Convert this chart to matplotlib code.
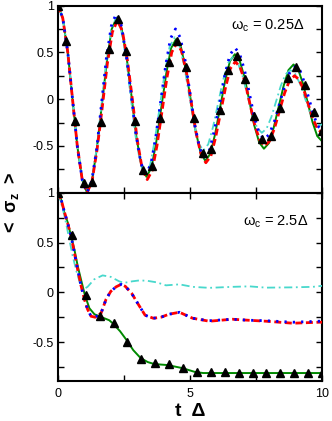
import matplotlib
matplotlib.use("Agg")
import matplotlib.pyplot as plt
from matplotlib.ticker import MultipleLocator

plt.rcParams['font.family'] = ['Liberation Sans', 'DejaVu Sans']
plt.rcParams['mathtext.fontset'] = 'custom'
plt.rcParams['mathtext.rm'] = 'Liberation Sans'
plt.rcParams['mathtext.it'] = 'Liberation Sans:italic'
plt.rcParams['mathtext.bf'] = 'Liberation Sans:bold'

# ---------------- top panel (omega_c = 0.25 Delta) ----------------
top_green_t = [0, 0.18, 0.37, 0.55, 0.73, 0.92, 1.1, 1.29, 1.47, 1.66, 1.85, 2.03, 2.22,
               2.41, 2.60, 2.79, 2.97, 3.16, 3.35, 3.54, 3.72, 3.91, 4.10, 4.28, 4.47,
               4.66, 4.84, 5.03, 5.21, 5.40, 5.58, 5.77, 5.95, 6.14, 6.33, 6.51, 6.70,
               6.88, 7.07, 7.25, 7.43, 7.62, 7.80, 7.99, 8.17, 8.36, 8.55, 8.73, 8.92,
               9.10, 9.28, 9.46, 9.64, 9.82, 10.0]
top_green_v = [1.0, 0.866, 0.5, 0.0, -0.5, -0.866, -1.0, -0.875, -0.53, -0.065, 0.40, 0.745, 0.87,
               0.756, 0.445, 0.02, -0.405, -0.716, -0.83, -0.732, -0.4625, -0.095, 0.2725, 0.542, 0.64,
               0.553, 0.315, -0.01, -0.335, -0.573, -0.66, -0.584, -0.375, -0.09, 0.195, 0.404, 0.48,
               0.412, 0.2275, -0.025, -0.2775, -0.462, -0.53, -0.47, -0.305, -0.08, 0.145, 0.31, 0.37,
               0.315, 0.165, -0.04, -0.245, -0.395, -0.45]

top_red_t = [0, 0.18, 0.37, 0.55, 0.73, 0.92, 1.1, 1.29, 1.48, 1.68, 1.87, 2.06, 2.25,
             2.44, 2.63, 2.82, 3.0, 3.19, 3.38, 3.57, 3.75, 3.94, 4.13, 4.31, 4.50,
             4.68, 4.87, 5.05, 5.23, 5.42, 5.60, 5.79, 5.97, 6.16, 6.35, 6.53, 6.72,
             6.90, 7.09, 7.27, 7.45, 7.64, 7.82, 8.01, 8.20, 8.39, 8.58, 8.77, 8.96,
             9.13, 9.31, 9.48, 9.65, 9.83, 10.0]
top_red_v = [1.0, 0.866, 0.5, 0.0, -0.5, -0.866, -1.0, -0.877, -0.54, -0.08, 0.38, 0.717, 0.84,
             0.726, 0.415, -0.01, -0.435, -0.746, -0.86, -0.762, -0.495, -0.13, 0.235, 0.502, 0.60,
             0.514, 0.28, -0.04, -0.36, -0.594, -0.68, -0.608, -0.41, -0.14, 0.13, 0.328, 0.40,
             0.34, 0.175, -0.05, -0.275, -0.44, -0.50, -0.45, -0.3125, -0.125, 0.0625, 0.20, 0.25,
             0.209, 0.0975, -0.055, -0.2075, -0.319, -0.36]

top_blue_t = [0, 0.18, 0.37, 0.55, 0.73, 0.92, 1.1, 1.28, 1.47, 1.65, 1.83, 2.02, 2.2,
              2.39, 2.58, 2.77, 2.95, 3.14, 3.33, 3.52, 3.70, 3.89, 4.08, 4.26, 4.45,
              4.63, 4.82, 5.0, 5.18, 5.37, 5.55, 5.74, 5.93, 6.13, 6.32, 6.51, 6.70,
              6.88, 7.07, 7.25, 7.43, 7.62, 7.80, 8.0, 8.2, 8.4, 8.6, 8.8, 9.0,
              9.17, 9.33, 9.5, 9.67, 9.83, 10.0]
top_blue_v = [1.0, 0.866, 0.5, 0.0, -0.5, -0.866, -1.0, -0.872, -0.5225, -0.045, 0.4325, 0.782, 0.91,
              0.795, 0.4825, 0.055, -0.3725, -0.685, -0.80, -0.696, -0.4125, -0.025, 0.3625, 0.646, 0.75,
              0.658, 0.4075, 0.065, -0.2775, -0.528, -0.62, -0.542, -0.3275, -0.035, 0.2575, 0.472, 0.55,
              0.484, 0.305, 0.06, -0.185, -0.364, -0.43, -0.378, -0.235, -0.04, 0.155, 0.298, 0.35,
              0.304, 0.18, 0.01, -0.16, -0.284, -0.33]

top_cyan_t = [0, 0.18, 0.37, 0.55, 0.73, 0.92, 1.1, 1.28, 1.47, 1.65, 1.83, 2.02, 2.2,
              2.38, 2.57, 2.75, 2.93, 3.12, 3.3, 3.49, 3.67, 3.86, 4.05, 4.23, 4.42,
              4.60, 4.78, 4.96, 5.14, 5.32, 5.5, 5.69, 5.87, 6.06, 6.25, 6.43, 6.62,
              6.80, 6.99, 7.17, 7.35, 7.54, 7.72, 7.90, 8.08, 8.26, 8.44, 8.62, 8.8,
              8.98, 9.17, 9.35, 9.53, 9.72, 9.9, 10.0]
top_cyan_v = [1.0, 0.867, 0.505, 0.01, -0.485, -0.847, -0.98, -0.856, -0.5175, -0.055, 0.4075, 0.746, 0.87,
              0.758, 0.4525, 0.035, -0.3825, -0.688, -0.80, -0.702, -0.435, -0.07, 0.295, 0.562, 0.66,
              0.579, 0.3575, 0.055, -0.2475, -0.469, -0.55, -0.483, -0.30, -0.05, 0.20, 0.383, 0.45,
              0.396, 0.2475, 0.045, -0.1575, -0.306, -0.36, -0.315, -0.1925, -0.025, 0.1425, 0.265, 0.31,
              0.27, 0.1625, 0.015, -0.1325, -0.24, -0.28, -0.27]

top_tri_v = [1.0, 0.62, -0.23, -0.90, -0.89, -0.24, 0.54, 0.86, 0.51, -0.23, -0.76, -0.72,
             -0.20, 0.40, 0.62, 0.34, -0.20, -0.58, -0.53, -0.12, 0.31, 0.46, 0.22, -0.18,
             -0.43, -0.39, -0.09, 0.23, 0.34, 0.15, -0.14, -0.34]
top_tri_t = [0.0, 0.32, 0.65, 0.97, 1.29, 1.61, 1.94, 2.26, 2.58, 2.90, 3.23, 3.55,
             3.87, 4.19, 4.52, 4.84, 5.16, 5.48, 5.81, 6.13, 6.45, 6.77, 7.10, 7.42,
             7.74, 8.06, 8.39, 8.71, 9.03, 9.35, 9.68, 10.0]

# ---------------- bottom panel (omega_c = 2.5 Delta) ----------------
bot_green_t = [0, 0.11, 0.24, 0.37, 0.49, 0.62, 0.75, 0.87, 1.02, 1.19, 1.38, 1.56, 1.94,
               2.07, 2.35, 2.6, 2.85, 3.13, 3.4, 3.65, 4.15, 4.7, 5.2, 5.5, 6, 7, 8, 9, 10]
bot_green_v = [1.0, 0.94, 0.80, 0.70, 0.57, 0.43, 0.26, 0.13, -0.03, -0.16, -0.22, -0.24, -0.28,
               -0.31, -0.39, -0.48, -0.58, -0.66, -0.70, -0.72, -0.73, -0.76, -0.80, -0.81,
               -0.81, -0.81, -0.81, -0.81, -0.81]

bot_red_t = [0, 0.12, 0.25, 0.37, 0.5, 0.62, 0.75, 0.87, 1.0, 1.12, 1.25, 1.41, 1.63, 1.82,
             2.0, 2.2, 2.39, 2.55, 2.79, 3.04, 3.3, 3.61, 3.9, 4.2, 4.6, 5.1, 5.73, 6.6,
             7.2, 7.88, 8.9, 9.9, 10]
bot_red_v = [1.0, 0.93, 0.80, 0.69, 0.56, 0.40, 0.22, 0.07, -0.07, -0.17, -0.24, -0.25, -0.21,
             -0.07, 0.01, 0.055, 0.08, 0.06, -0.01, -0.12, -0.23, -0.26, -0.25, -0.22, -0.20,
             -0.26, -0.29, -0.27, -0.28, -0.29, -0.31, -0.30, -0.30]
bot_blue_t = bot_red_t
bot_blue_v = [1.0, 0.93, 0.80, 0.69, 0.56, 0.40, 0.22, 0.07, -0.07, -0.17, -0.24, -0.25, -0.21,
              -0.07, 0.01, 0.055, 0.08, 0.06, -0.01, -0.12, -0.23, -0.26, -0.25, -0.22, -0.20,
              -0.26, -0.285, -0.27, -0.28, -0.285, -0.30, -0.29, -0.29]

bot_cyan_t = [0, 0.05, 0.18, 0.3, 0.43, 0.56, 0.71, 0.87, 0.96, 1.12, 1.37, 1.69, 2.0, 2.32,
              2.51, 2.8, 3.1, 3.4, 3.74, 4.09, 4.6, 5.1, 5.73, 6.6, 7.25, 7.88, 8.9, 9.65, 10]
bot_cyan_v = [1.0, 0.95, 0.84, 0.70, 0.53, 0.36, 0.20, 0.06, 0.03, 0.055, 0.13, 0.17, 0.155,
              0.11, 0.095, 0.11, 0.12, 0.115, 0.10, 0.07, 0.08, 0.055, 0.045, 0.055, 0.06,
              0.047, 0.05, 0.055, 0.065]

bot_tri_t = [0.0, 0.53, 1.05, 1.58, 2.11, 2.63, 3.16, 3.68, 4.21, 4.74, 5.26, 5.79, 6.32,
             6.84, 7.37, 7.89, 8.42, 8.95, 9.47, 10.0]
bot_tri_v = [1.0, 0.58, -0.03, -0.24, -0.31, -0.50, -0.67, -0.71, -0.72, -0.76, -0.80, -0.80,
             -0.80, -0.81, -0.81, -0.81, -0.81, -0.81, -0.81, -0.81]

labels = [r'$\mathrm{\omega_c}$ = 0.25Δ', r'$\mathrm{\omega_c}$ = 2.5Δ']

fig = plt.figure(figsize=(3.32, 4.21), dpi=100)
left, width = 0.1747, 0.7952
ax1 = fig.add_axes([left, 0.5423, width, 0.4446])
ax2 = fig.add_axes([left, 0.0950, width, 0.4473])

GREEN = '#008a00'
RED = '#ff0000'
BLUE = '#0000ff'
CYAN = '#48d8cc'


def draw(ax, g, c, r, b, tri):
    ax.plot(g[0], g[1], color=GREEN, lw=1.4, zorder=2)
    ax.plot(c[0], c[1], color=CYAN, lw=1.3, dashes=(4.5, 2, 1, 2), zorder=3)
    ax.plot(r[0], r[1], color=RED, lw=2.0, dashes=(2.5, 1.3), zorder=4)
    ax.plot(b[0], b[1], color=BLUE, lw=2.0, dashes=(0.8, 2.2), zorder=5)
    ax.plot(tri[0], tri[1], ls='none', marker='^', color='black', ms=5.5, zorder=6)


draw(ax1, (top_green_t, top_green_v), (top_cyan_t, top_cyan_v), (top_red_t, top_red_v),
     (top_blue_t, top_blue_v), (top_tri_t, top_tri_v))
draw(ax2, (bot_green_t, bot_green_v), (bot_cyan_t, bot_cyan_v), (bot_red_t, bot_red_v),
     (bot_blue_t, bot_blue_v), (bot_tri_t, bot_tri_v))

ax1.set_ylim(-1.0, 1.0)
ax2.set_ylim(-0.89, 1.0)
for ax in (ax1, ax2):
    ax.set_xlim(0, 10)
    ax.xaxis.set_major_locator(MultipleLocator(5))
    ax.xaxis.set_minor_locator(MultipleLocator(2.5))
    ax.yaxis.set_major_locator(MultipleLocator(0.5))
    ax.yaxis.set_minor_locator(MultipleLocator(0.25))
    ax.tick_params(which='both', direction='in', left=True, right=True, top=True, bottom=True,
                   width=1.0, labelsize=9, pad=3)
    ax.tick_params(which='major', length=4)
    ax.tick_params(which='minor', length=4)
    for s in ax.spines.values():
        s.set_linewidth(1.5)

ax1.tick_params(which='both', top=False)
ax1.set_yticks([-0.5, 0, 0.5, 1])
ax1.set_yticklabels(['-0.5', '0', '0.5', '1'])
ax1.tick_params(labelbottom=False)
ax2.set_yticks([-0.5, 0, 0.5, 1])
ax2.set_yticklabels(['-0.5', '0', '0.5', '1'])
ax2.set_xticks([0, 5, 10])
ax2.set_xticklabels(['0', '5', '10'])
ax2.tick_params(axis='x', pad=5)

ax1.text(0.932, 0.89, labels[0], transform=ax1.transAxes, ha='right', va='center', fontsize=10.5)
ax2.text(0.947, 0.845, labels[1], transform=ax2.transAxes, ha='right', va='center', fontsize=10.5)

fig.text(0.035, 0.52, r'<  $\mathbf{\sigma_z}$  >', rotation=90, ha='center', va='center',
         fontsize=13, fontweight='bold')
ax2.set_xlabel('t  Δ', fontsize=14, fontweight='bold', labelpad=2)

fig.savefig('out.png', dpi=100)
